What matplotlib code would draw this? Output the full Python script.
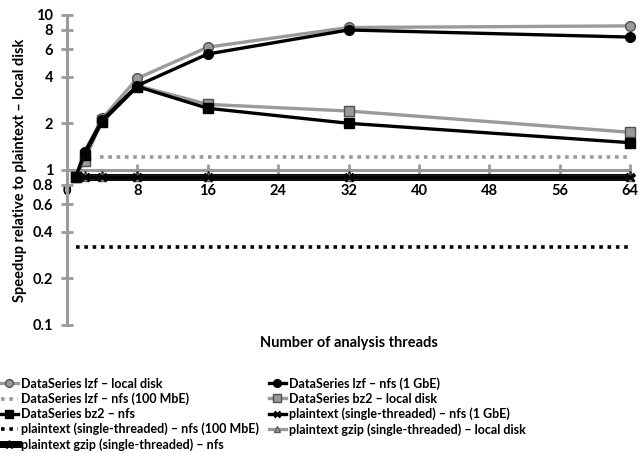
import matplotlib.pyplot as plt
from matplotlib.ticker import FixedLocator, NullLocator, FixedFormatter

plt.rcParams['font.family'] = ['Lato', 'DejaVu Sans']
plt.rcParams['font.weight'] = 'bold'

threads = [1, 2, 4, 8, 16, 32, 64]
lzf_local = [0.9, 1.3, 2.15, 3.9, 6.2, 8.3, 8.5]
lzf_nfs1g = [0.9, 1.3, 2.1, 3.5, 5.6, 8.0, 7.2]
lzf_nfs100_x = [3.7, 64]
lzf_nfs100 = [1.22, 1.22]
bz2_local = [0.9, 1.15, 2.1, 3.5, 2.65, 2.4, 1.75]
bz2_nfs = [0.9, 1.25, 2.05, 3.45, 2.5, 2.0, 1.5]
plain_nfs1g = [0.9, 0.9, 0.9, 0.9, 0.9, 0.9, 0.9]
plain_nfs100_x = [1, 64]
plain_nfs100 = [0.32, 0.32]
gzip_local = [0.9, 0.9, 0.9, 0.9, 0.9, 0.9, 0.9]
gzip_nfs = [0.9, 0.9, 0.9, 0.9, 0.9, 0.9, 0.9]

yticks = [0.1, 0.2, 0.4, 0.6, 0.8, 1, 2, 4, 6, 8, 10]
ylabels = ['0.1', '0.2', '0.4', '0.6', '0.8', '1', '2', '4', '6', '8', '10']
xticks = [0, 8, 16, 24, 32, 40, 48, 56, 64]

gray = '#9a9a9a'
lw = 2.4

fig = plt.figure(figsize=(6.41, 4.53), dpi=100)
ax = fig.add_axes([0.1045, 0.2826, 0.8785, 0.6844])

ax.plot(threads, gzip_nfs, color='black', lw=5, marker='*', ms=8, label='plaintext gzip (single-threaded) – nfs', zorder=2, clip_on=False)
ax.plot(threads, gzip_local, color=gray, lw=lw, marker='^', ms=6, mfc=gray, mec='#606060', label='plaintext gzip (single-threaded) – local disk', zorder=2, clip_on=False)
ax.plot(threads, plain_nfs1g, color='black', lw=lw, marker='x', ms=6, mew=1.8, label='plaintext (single-threaded) – nfs (1 GbE)', zorder=2, clip_on=False)
ax.plot(plain_nfs100_x, plain_nfs100, color='black', lw=2.6, ls=(0, (1, 1.3)), label='plaintext (single-threaded) – nfs (100 MbE)')
ax.plot(lzf_nfs100_x, lzf_nfs100, color=gray, lw=2.6, ls=(0, (1, 1.3)), label='DataSeries lzf – nfs (100 MbE)')
ax.plot(threads, bz2_local, color=gray, lw=lw, marker='s', ms=6.5, mfc=gray, mec='#505050', label='DataSeries bz2 – local disk', zorder=3, clip_on=False)
ax.plot(threads, bz2_nfs, color='black', lw=lw, marker='s', ms=6.5, label='DataSeries bz2 – nfs', zorder=3, clip_on=False)
ax.plot(threads, lzf_local, color=gray, lw=lw, marker='o', ms=7, mfc=gray, mec='#505050', label='DataSeries lzf – local disk', zorder=4, clip_on=False)
ax.plot(threads, lzf_nfs1g, color='black', lw=lw, marker='o', ms=7, label='DataSeries lzf – nfs (1 GbE)', zorder=4, clip_on=False)

ax.set_yscale('log')
ax.set_ylim(0.1, 10)
ax.set_xlim(0, 64)
ax.yaxis.set_major_locator(FixedLocator(yticks))
ax.yaxis.set_major_formatter(FixedFormatter(ylabels))
ax.yaxis.set_minor_locator(NullLocator())
ax.set_xticks(xticks)
ax.set_xticklabels([str(t) for t in xticks])

for s in ['top', 'right']:
    ax.spines[s].set_visible(False)
ax.spines['bottom'].set_position(('data', 1))
ax.spines['left'].set_color(gray)
ax.spines['bottom'].set_color(gray)
ax.spines['left'].set_linewidth(2.2)
ax.spines['bottom'].set_linewidth(2.2)
ax.spines['bottom'].set_zorder(1)
ax.tick_params(axis='both', direction='inout', length=8, width=2, color=gray, labelsize=10.5)
ax.tick_params(axis='x', pad=6)
ax.tick_params(axis='y', pad=6)
for t in ax.get_xticklabels() + ax.get_yticklabels():
    t.set_fontweight('bold')

ax.set_ylabel('Speedup relative to plaintext – local disk', fontsize=10.5, fontweight='bold', labelpad=4)
fig.text(0.545, 0.242, 'Number of analysis threads', ha='center', va='center', fontsize=10.5, fontweight='bold')

h, l = ax.get_legend_handles_labels()
order = ['DataSeries lzf – local disk', 'DataSeries lzf – nfs (1 GbE)',
         'DataSeries lzf – nfs (100 MbE)', 'DataSeries bz2 – local disk',
         'DataSeries bz2 – nfs', 'plaintext (single-threaded) – nfs (1 GbE)',
         'plaintext (single-threaded) – nfs (100 MbE)', 'plaintext gzip (single-threaded) – local disk',
         'plaintext gzip (single-threaded) – nfs']
hd = dict(zip(l, h))
col1 = order[0::2]
col2 = order[1::2]
leg_order = col1 + col2
fig.legend([hd[k] for k in leg_order], leg_order, loc='upper left', bbox_to_anchor=(0.0, 0.17),
           ncol=2, frameon=False, handlelength=1.3, handletextpad=0.3,
           labelspacing=0.22, columnspacing=0.8, borderaxespad=0.0, borderpad=0.1,
           prop={'weight': 'bold', 'size': 9}, markerscale=0.8)

fig.savefig('out.png', dpi=100)
